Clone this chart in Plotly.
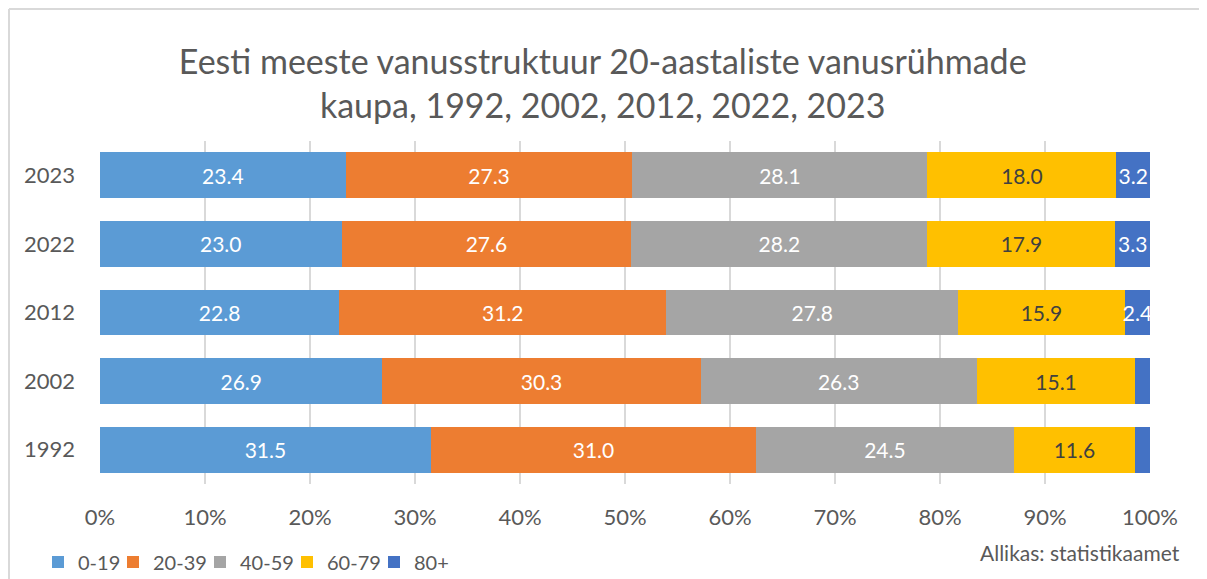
import plotly.graph_objects as go

years = ["1992", "2002", "2012", "2022", "2023"]
groups = ["0-19", "20-39", "40-59", "60-79", "80+"]
v_0_19 = [31.5, 26.9, 22.8, 23.0, 23.4]
v_20_39 = [31.0, 30.3, 31.2, 27.6, 27.3]
v_40_59 = [24.5, 26.3, 27.8, 28.2, 28.1]
v_60_79 = [11.6, 15.1, 15.9, 17.9, 18.0]
v_80 = [1.4, 1.4, 2.4, 3.3, 3.2]
show_80_label = [False, False, True, True, True]
x_ticks = [0, 10, 20, 30, 40, 50, 60, 70, 80, 90, 100]

series = [v_0_19, v_20_39, v_40_59, v_60_79, v_80]
colors = ["#5B9BD5", "#ED7D31", "#A5A5A5", "#FFC000", "#4472C4"]
label_colors = ["white", "white", "white", "#404040", "white"]
legend_widths = [30, 42, 42, 42, 40]

FONT = "Lato"
OFF = 8  # page body margin offset
W, H = 1207 - OFF, 579 - OFF
ML, MR, MT, MB = 92, 57, 133, 95
PW, PH = W - ML - MR, H - MT - MB


def px_x(p):  # p: pixel in the rendered page
    return (p - OFF - ML) / PW


def px_y(p):
    return (H - MB - (p - OFF)) / PH


fig = go.Figure()
for name, vals, col, lc, lw in zip(groups, series, colors, label_colors, legend_widths):
    if name == "80+":
        txt = [f"{v:.1f}" if s else "" for v, s in zip(vals, show_80_label)]
    else:
        txt = [f"{v:.1f}" for v in vals]
    fig.add_trace(go.Bar(
        y=years, x=vals, name=name, orientation="h",
        marker=dict(color=col, line=dict(width=0)),
        text=txt, textposition="inside", insidetextanchor="middle",
        textangle=0, constraintext="none", cliponaxis=True,
        textfont=dict(family=FONT, size=21, color=lc),
        legendwidth=lw,
        hoverinfo="skip",
    ))

fig.update_layout(
    width=W, height=H,
    margin=dict(l=ML, r=MR, t=MT, b=MB, autoexpand=False),
    barmode="stack", barnorm="percent", bargap=0.33,
    paper_bgcolor="white", plot_bgcolor="white",
    font=dict(family=FONT, color="#595959"),
    title=dict(
        text="Eesti meeste vanusstruktuur 20-aastaliste vanusrühmade<br>kaupa, 1992, 2002, 2012, 2022, 2023",
        x=0.496, xanchor="center", y=1 - 66 / H, yanchor="middle",
        font=dict(family=FONT, size=34, color="#595959"),
    ),
    xaxis=dict(
        range=[0, 100], tickvals=x_ticks, ticktext=[f"{t}%" for t in x_ticks],
        showgrid=True, gridcolor="#D9D9D9", gridwidth=2, zeroline=False,
        showline=False, tickfont=dict(family=FONT, size=22, color="#595959"),
        ticklabelstandoff=18, fixedrange=True,
    ),
    yaxis=dict(
        type="category", categoryorder="array", categoryarray=years,
        showgrid=False, zeroline=False, showline=False,
        tickfont=dict(family=FONT, size=22, color="#595959"),
        ticklabelstandoff=24,
    ),
    legend=dict(
        orientation="h", x=px_x(38), xanchor="left", y=px_y(562), yanchor="middle",
        font=dict(family=FONT, size=20, color="#595959"),
        traceorder="normal", itemclick=False, bgcolor="rgba(0,0,0,0)",
    ),
    showlegend=True,
)

fig.add_annotation(
    text="Allikas: statistikaamet", xref="paper", yref="paper",
    x=px_x(1182), y=px_y(552), xanchor="right", yanchor="middle",
    showarrow=False, font=dict(family=FONT, size=21, color="#595959"),
)

# chart frame (light border)
for x0, y0, x1, y1 in [(9, 9, 9, 579), (9, 9, 1207, 9)]:
    fig.add_shape(type="line", xref="paper", yref="paper",
                  x0=px_x(x0), y0=px_y(y0), x1=px_x(x1), y1=px_y(y1),
                  line=dict(color="#D9D9D9", width=2))

fig.write_html("out.html")
